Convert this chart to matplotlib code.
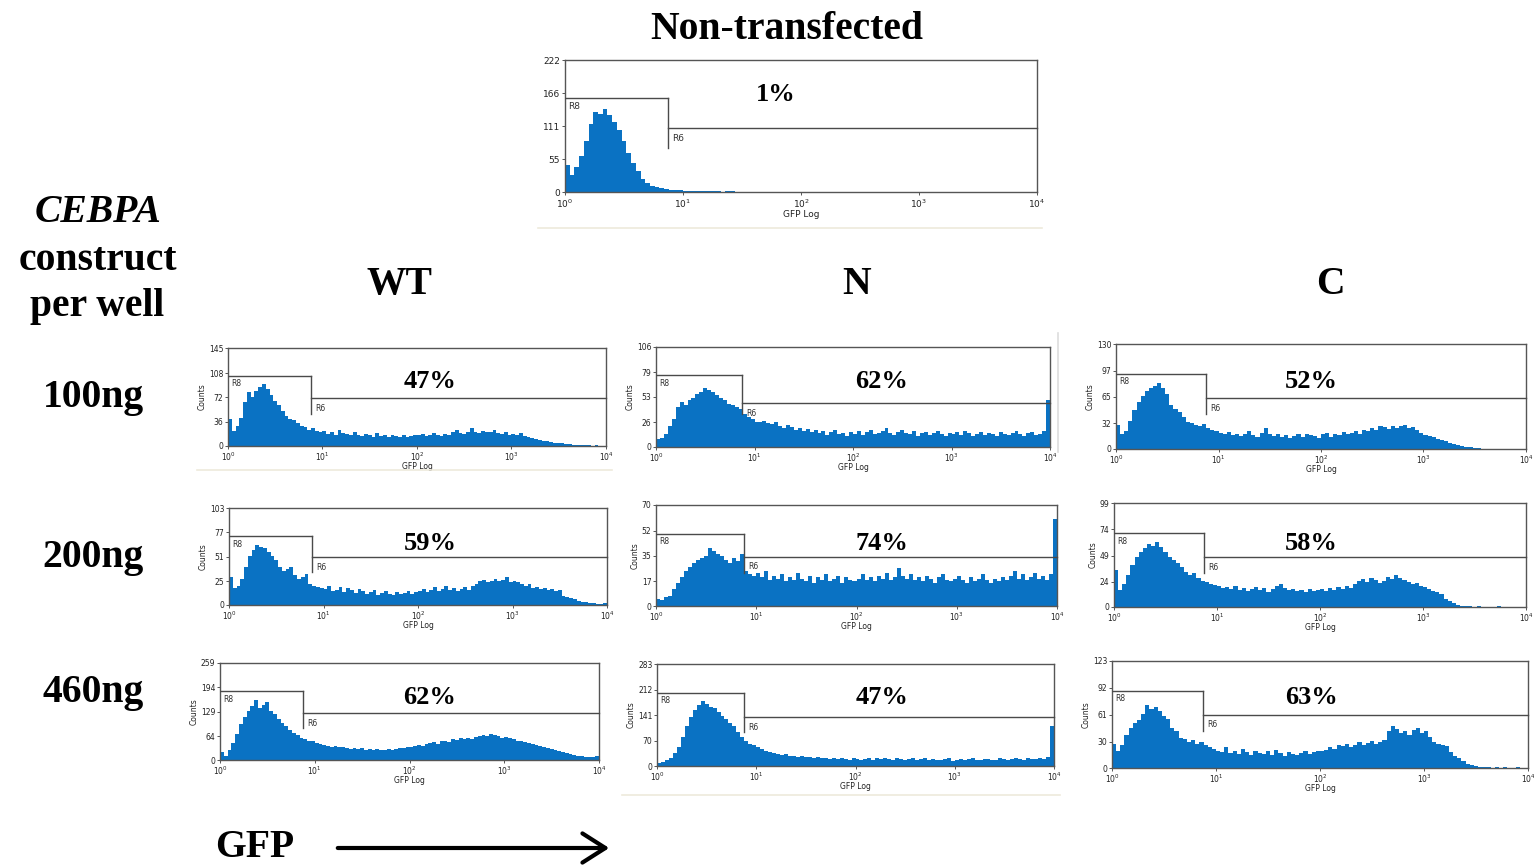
import numpy as np
import matplotlib
matplotlib.use("Agg")
import matplotlib.pyplot as plt
from matplotlib.lines import Line2D
from matplotlib.patches import FancyArrowPatch
from matplotlib.ticker import NullLocator

# ---------------------------------------------------------------------------
# GFP histograms: counts per channel, 25 channels per decade from 10^0 to 10^4
# ---------------------------------------------------------------------------
nt_counts = [45, 28, 42, 60, 85, 115, 135, 132, 140, 130, 118, 105, 85, 65, 48, 35, 22, 15, 10, 8, 6, 5, 4, 3, 3,
             2, 2, 1, 2, 1, 1, 2, 1, 0, 1, 1, 0, 0, 0, 0, 0, 0, 0, 0, 0, 0, 0, 0, 0, 0,
             0, 0, 0, 0, 0, 0, 0, 0, 0, 0, 0, 0, 0, 0, 0, 0, 0, 0, 0, 0, 0, 0, 0, 0, 0,
             0, 0, 0, 0, 0, 0, 0, 0, 0, 0, 0, 0, 0, 0, 0, 0, 0, 0, 0, 0, 0, 0, 0, 0, 0]

wt_100 = [40, 22, 30, 42, 65, 80, 72, 82, 88, 92, 85, 76, 66, 60, 52, 44, 40, 38, 34, 30, 28, 24, 26, 22, 20,
          22, 18, 20, 17, 24, 19, 18, 16, 21, 17, 15, 18, 16, 14, 19, 15, 16, 14, 17, 15, 13, 16, 14, 15, 17,
          16, 18, 15, 17, 19, 16, 15, 18, 17, 20, 23, 19, 18, 21, 26, 20, 19, 22, 21, 20, 23, 19, 18, 21, 17,
          18, 16, 19, 15, 13, 12, 10, 9, 8, 7, 6, 5, 4, 4, 3, 3, 2, 2, 1, 1, 1, 0, 1, 0, 0]

n_100 = [8, 10, 14, 22, 30, 42, 48, 45, 50, 52, 56, 58, 63, 60, 58, 55, 52, 50, 46, 44, 42, 40, 35, 32, 30,
         27, 26, 28, 25, 24, 26, 22, 20, 23, 21, 18, 20, 17, 19, 16, 18, 15, 17, 13, 16, 18, 14, 15, 12, 16,
         14, 17, 13, 16, 18, 14, 15, 17, 20, 15, 13, 16, 18, 15, 14, 17, 12, 15, 16, 13, 15, 17, 14, 12, 15,
         14, 16, 13, 17, 15, 12, 14, 16, 13, 15, 14, 12, 16, 14, 13, 15, 17, 14, 12, 15, 16, 13, 14, 17, 50]

c_100 = [30, 18, 22, 35, 48, 58, 66, 72, 75, 78, 82, 76, 68, 55, 50, 46, 40, 34, 32, 30, 29, 31, 26, 24, 22,
         20, 18, 21, 17, 19, 16, 18, 22, 17, 15, 20, 26, 18, 16, 19, 15, 17, 14, 16, 18, 15, 19, 17, 16, 14,
         18, 20, 15, 19, 17, 21, 18, 20, 22, 19, 24, 22, 26, 24, 28, 27, 25, 29, 26, 28, 30, 26, 27, 24, 20,
         17, 16, 15, 12, 11, 10, 8, 6, 5, 4, 3, 2, 1, 1, 0, 0, 0, 0, 0, 0, 0, 0, 0, 0, 0]

wt_200 = [30, 18, 20, 28, 40, 52, 58, 64, 62, 60, 56, 52, 48, 40, 36, 38, 40, 32, 28, 30, 33, 22, 20, 19, 18,
          17, 20, 15, 16, 19, 14, 18, 16, 13, 17, 15, 12, 14, 16, 11, 13, 15, 12, 11, 14, 12, 13, 15, 12, 14,
          15, 17, 14, 16, 19, 15, 17, 20, 16, 18, 15, 17, 19, 16, 20, 22, 25, 27, 24, 26, 28, 25, 27, 30, 24,
          26, 24, 22, 20, 22, 18, 19, 17, 18, 16, 17, 15, 16, 10, 8, 7, 6, 4, 3, 3, 2, 2, 1, 1, 2]

n_200 = [5, 4, 6, 7, 12, 16, 20, 24, 27, 30, 32, 33, 35, 40, 38, 36, 35, 32, 30, 33, 31, 36, 24, 22, 21,
         23, 20, 24, 18, 21, 19, 22, 17, 20, 18, 23, 19, 17, 21, 16, 20, 18, 22, 17, 19, 21, 16, 20, 18, 17,
         19, 22, 18, 20, 17, 21, 19, 23, 18, 20, 26, 21, 19, 22, 18, 20, 17, 21, 19, 16, 20, 22, 18, 17, 19,
         21, 18, 16, 20, 17, 19, 22, 18, 16, 19, 17, 20, 18, 21, 24, 19, 22, 18, 20, 23, 19, 21, 18, 22, 60]

c_200 = [35, 16, 22, 30, 40, 48, 52, 56, 60, 58, 62, 57, 52, 48, 45, 42, 38, 33, 30, 32, 28, 25, 24, 22, 21,
         20, 18, 19, 17, 20, 16, 18, 15, 17, 19, 16, 18, 14, 17, 20, 22, 18, 16, 17, 15, 16, 14, 17, 15, 16,
         17, 15, 18, 16, 19, 17, 20, 18, 22, 25, 27, 24, 28, 26, 23, 25, 29, 27, 30, 28, 26, 24, 22, 23, 20,
         19, 17, 15, 14, 12, 8, 6, 4, 2, 1, 1, 1, 0, 1, 0, 0, 0, 0, 1, 0, 0, 0, 0, 0, 0]

wt_460 = [22, 12, 28, 45, 70, 95, 115, 130, 145, 160, 140, 148, 155, 130, 122, 110, 98, 92, 80, 72, 66, 60, 55, 52, 50,
          45, 42, 40, 38, 36, 38, 34, 35, 33, 30, 32, 29, 31, 28, 30, 27, 29, 26, 28, 30, 27, 29, 31, 33, 36,
          34, 38, 40, 37, 42, 45, 48, 44, 50, 52, 49, 55, 53, 58, 56, 60, 57, 62, 65, 68, 63, 70, 66, 64, 60,
          62, 58, 55, 52, 50, 48, 45, 42, 40, 38, 35, 32, 30, 27, 24, 21, 18, 16, 14, 12, 10, 9, 8, 7, 10]

n_460 = [8, 12, 18, 22, 35, 52, 80, 110, 135, 155, 170, 180, 172, 165, 160, 150, 140, 130, 120, 110, 95, 80, 68, 62, 58,
         52, 48, 42, 40, 36, 34, 30, 32, 28, 27, 26, 28, 24, 25, 22, 24, 21, 23, 20, 22, 19, 21, 20, 18, 22,
         19, 17, 20, 22, 18, 21, 19, 23, 20, 18, 21, 19, 17, 20, 22, 18, 19, 21, 17, 20, 18, 16, 19, 21, 14,
         18, 20, 17, 19, 21, 18, 16, 19, 20, 17, 18, 21, 19, 17, 20, 22, 19, 18, 21, 20, 19, 22, 20, 24, 110]

c_460 = [28, 20, 26, 38, 46, 52, 55, 62, 72, 68, 70, 65, 60, 56, 46, 42, 35, 33, 30, 32, 28, 30, 26, 24, 22,
         20, 18, 24, 17, 19, 16, 22, 18, 15, 20, 17, 16, 19, 15, 21, 17, 14, 18, 16, 15, 17, 19, 16, 18, 20,
         19, 21, 24, 22, 26, 25, 28, 24, 27, 30, 26, 29, 31, 28, 30, 32, 42, 48, 45, 40, 42, 38, 44, 46, 40,
         42, 36, 30, 28, 27, 25, 18, 14, 12, 8, 5, 3, 2, 1, 1, 1, 0, 1, 0, 1, 0, 0, 1, 0, 0]

# Percentage of events in the R6 (GFP positive) gate
nt_pct = 1
pct_100 = [47, 62, 52]
pct_200 = [59, 74, 58]
pct_460 = [62, 47, 63]

# Y-axis tick values of each histogram (last one is the axis maximum)
nt_yticks = [0, 55, 111, 166, 222]
yticks_100 = [[0, 36, 72, 108, 145], [0, 26, 53, 79, 106], [0, 32, 65, 97, 130]]
yticks_200 = [[0, 25, 51, 77, 103], [0, 17, 35, 52, 70], [0, 24, 49, 74, 99]]
yticks_460 = [[0, 64, 129, 194, 259], [0, 70, 141, 212, 283], [0, 30, 61, 92, 123]]

# Gate markers (R8 level, R6 level, foot of the divider) in counts
gate_split = 7.5
nt_gate = (158, 107.6, 74)
gates_100 = [(103.6, 71, 47), (76, 46.6, 35), (93, 63, 43)]
gates_200 = [(73, 51, 35), (50, 34, 23), (70.4, 47.6, 32)]
gates_460 = [(184, 125.5, 85), (202.5, 136, 94), (88.5, 61, 42.5)]

columns = ["WT", "N", "C"]
doses = ["100ng", "200ng", "460ng"]
xtick_labels = [r"$10^{0}$", r"$10^{1}$", r"$10^{2}$", r"$10^{3}$", r"$10^{4}$"]

# ---------------------------------------------------------------------------
W, H = 1534, 865
fig = plt.figure(figsize=(W / 100, H / 100), dpi=100)
BLUE = "#0a72c3"
FRAME = "#555555"
SERIF = "Liberation Serif"
edges = np.logspace(0, 4, 101)


def fx(x):
    return x / W


def fy(y):
    return 1 - y / H


def add_px_axes(l, t, r, b):
    return fig.add_axes([l / W, 1 - b / H, (r - l) / W, (b - t) / H])


def histogram_panel(rect, counts, yticks, gate, tick_fs, counts_label=True, pad=1.2, xlabelpad=0.5):
    ax = add_px_axes(*rect)
    ax.stairs(counts, edges, fill=True, color=BLUE, lw=0, zorder=1)
    ax.set_xscale("log")
    ax.set_xlim(1, 1e4)
    ax.set_ylim(0, yticks[-1])
    ax.set_xticks([1, 10, 100, 1000, 10000])
    ax.set_xticklabels(xtick_labels)
    ax.xaxis.set_minor_locator(NullLocator())
    ax.set_yticks(yticks)
    ax.set_yticklabels([str(v) for v in yticks])
    ax.tick_params(axis="both", direction="out", length=2.5, width=0.7, color=FRAME,
                   labelsize=tick_fs, labelcolor="#222222", pad=pad)
    for s in ax.spines.values():
        s.set_color(FRAME)
        s.set_linewidth(1.0)
    ax.set_xlabel("GFP Log", fontsize=tick_fs, color="#222222", labelpad=xlabelpad)
    if counts_label:
        ax.set_ylabel("Counts", fontsize=tick_fs, color="#222222", labelpad=1.5)
    r8, r6, foot = gate
    gcol = "#4a4a4a"
    ax.plot([1, gate_split], [r8, r8], color=gcol, lw=1.0, zorder=3)
    ax.plot([gate_split, gate_split], [r8, foot], color=gcol, lw=1.0, zorder=3)
    ax.plot([gate_split, 1e4], [r6, r6], color=gcol, lw=1.0, zorder=3, clip_on=False)
    ax.annotate("R8", xy=(1, r8), xytext=(2.5, -2.5), textcoords="offset points",
                ha="left", va="top", fontsize=tick_fs, color="#333333")
    ax.annotate("R6", xy=(gate_split, r6), xytext=(3, -4), textcoords="offset points",
                ha="left", va="top", fontsize=tick_fs, color="#333333")
    return ax


def pct_text(x, y, pct):
    fig.text(fx(x), fy(y), f"{pct}%", ha="center", va="baseline",
             fontfamily=SERIF, fontweight="bold", fontsize=19)


# Non-transfected control
histogram_panel((565, 60, 1037, 192), nt_counts, nt_yticks, nt_gate, 6.5, counts_label=False)
pct_text(776, 101, nt_pct)

# Transfected wells: rows = dose, columns = construct
rects = [
    [(228, 348, 606, 446), (656, 347, 1050, 447), (1116, 344, 1526, 449)],
    [(229, 508, 607, 605), (656, 505, 1057, 606), (1114, 503, 1526, 607)],
    [(220, 663, 599, 760), (657, 664, 1054, 766), (1112, 661, 1528, 768)],
]
data = [[wt_100, n_100, c_100], [wt_200, n_200, c_200], [wt_460, n_460, c_460]]
ticks = [yticks_100, yticks_200, yticks_460]
gates = [gates_100, gates_200, gates_460]
pcts = [pct_100, pct_200, pct_460]
pct_x = [430, 882, 1311]
pct_base = [388, 550, 704]

for r in range(3):
    for c in range(3):
        histogram_panel(rects[r][c], data[r][c], ticks[r][c], gates[r][c], 5.5,
                        pad=0.8, xlabelpad=-0.5)
        pct_text(pct_x[c], pct_base[r], pcts[r][c])

# Headings and row labels
big = dict(fontfamily=SERIF, fontweight="bold", fontsize=28.5, ha="center", va="baseline")
fig.text(fx(787), fy(39), "Non-transfected", **big)
fig.text(fx(98), fy(222), "CEBPA", style="italic", **big)
fig.text(fx(98), fy(270), "construct", **big)
fig.text(fx(97), fy(316), "per well", **big)
for x, name in zip([399, 857, 1330], columns):
    fig.text(fx(x), fy(294), name, **big)
for y, dose in zip([407, 567, 702], doses):
    fig.text(fx(93), fy(y), dose, **big)

# GFP axis arrow at the bottom
fig.text(fx(255), fy(857), "GFP", **big)
fig.add_artist(FancyArrowPatch((fx(335), fy(848)), (fx(612), fy(848)),
                               transform=fig.transFigure,
                               arrowstyle="->, head_length=0.55, head_width=0.35",
                               mutation_scale=30, lw=3, color="black"))

# Faint panel separators
sep = "#eeeadc"
for (x1, y1, x2, y2) in [(538, 228, 1042, 228), (197, 470, 612, 470), (622, 795, 1060, 795)]:
    fig.add_artist(Line2D([fx(x1), fx(x2)], [fy(y1), fy(y2)], color=sep, lw=1.2,
                          transform=fig.transFigure))
fig.add_artist(Line2D([fx(1058), fx(1058)], [fy(333), fy(452)], color="#dddddd", lw=1.2,
                      transform=fig.transFigure))

fig.savefig("out.png", dpi=100)
